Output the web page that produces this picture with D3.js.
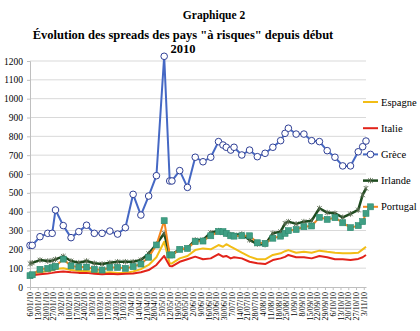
<!DOCTYPE html>
<html>
<head>
<meta charset="utf-8">
<script src="https://cdn.jsdelivr.net/npm/d3@7"></script>
<style>
  body { margin: 0; background: #fff; }
  svg { font-family: "Liberation Serif", "Times New Roman", serif; }
</style>
</head>
<body>
<div id="chart"></div>
<script>
// Weekly quotes (dd/mm dates of each observation)
var dates = ["2010-01-06","2010-01-08","2010-01-15","2010-01-22","2010-01-26","2010-01-29","2010-02-05","2010-02-12","2010-02-19","2010-02-26",
  "2010-03-05","2010-03-12","2010-03-19","2010-03-26","2010-04-02","2010-04-09","2010-04-16","2010-04-23","2010-04-30","2010-05-07",
  "2010-05-12","2010-05-14","2010-05-21","2010-05-28","2010-06-04","2010-06-11","2010-06-18","2010-06-25","2010-06-29","2010-07-02",
  "2010-07-06","2010-07-09","2010-07-16","2010-07-23","2010-07-30","2010-08-06","2010-08-13","2010-08-20","2010-08-24","2010-08-27",
  "2010-09-03","2010-09-10","2010-09-17","2010-09-24","2010-10-01","2010-10-08","2010-10-15","2010-10-22","2010-10-29","2010-11-02","2010-11-05"];

var espagne = [70,72,78,85,88,95,100,90,85,85, 80,75,78,75,75,82,95,117,158,240,
  125,125,152,165,196,205,200,223,214,227, 214,205,182,161,147,147,170,179,190,196,
  182,187,182,193,187,182,179,179,182,200,214];
var italie = [60,62,68,72,75,78,82,78,75,75, 70,68,70,68,70,72,78,90,117,165,
  112,110,134,147,161,147,152,175,161,165, 152,158,152,134,126,122,143,152,160,170,
  158,158,152,165,158,147,147,143,149,158,170];
var grece = [221,221,267,285,285,409,326,262,294,328, 285,285,297,281,315,492,382,483,591,1225,
  563,563,618,529,689,665,689,772,754,742, 727,742,701,727,692,710,742,777,816,843,
  812,812,777,772,724,689,643,643,718,745,775];
var irlande = [124,128,143,138,140,147,163,138,129,138, 126,122,129,134,134,134,143,177,227,285,
  170,173,200,205,250,250,288,299,290,281, 278,276,281,250,228,225,285,294,338,347,
  335,347,352,418,395,391,370,388,409,489,524];
var portugal = [60,65,94,99,104,110,148,112,106,106, 94,90,104,104,99,108,122,158,223,352,
  170,170,200,205,241,244,272,294,294,285, 272,270,272,272,235,232,259,270,285,299,
  305,320,324,370,359,368,341,315,326,347,391];

var seriesNames = ["Espagne", "Italie", "Grèce", "Irlande", "Portugal"];

var xTickLabels = ["6/01/10","13/01/10","20/01/10","27/01/10","3/02/10","10/02/10","17/02/10","24/02/10",
  "3/03/10","10/03/10","17/03/10","24/03/10","31/03/10","7/04/10","14/04/10","21/04/10","28/04/10",
  "5/05/10","12/05/10","19/05/10","26/05/10","2/06/10","9/06/10","16/06/10","23/06/10","30/06/10",
  "7/07/10","14/07/10","21/07/10","28/07/10","4/08/10","11/08/10","18/08/10","25/08/10",
  "1/09/10","8/09/10","15/09/10","22/09/10","29/09/10","6/10/10","13/10/10","20/10/10","27/10/10","3/11/10"];

var yTicks = [0,100,200,300,400,500,600,700,800,900,1000,1100,1200];

var width = 420, height = 331;
var margin = {left: 30, right: 54, top: 61, bottom: 44};

var parseIso = d3.timeParse("%Y-%m-%d");
var parseTick = d3.timeParse("%d/%m/%y");
var fmtTick = d3.timeFormat("%-d/%m/%y");

var dateObjs = dates.map(parseIso);
var tickDates = xTickLabels.map(parseTick);

var x = d3.scaleTime()
  .domain([dateObjs[0], dateObjs[dateObjs.length - 1]])
  .range([margin.left, width - margin.right]);

var y = d3.scaleLinear()
  .domain([0, 1200])
  .range([height - margin.bottom, margin.top]);

var svg = d3.select('#chart')
  .append('svg')
  .attr('width', width)
  .attr('height', height);

// Titles
svg.append('text')
  .attr('x', 214).attr('y', 19)
  .attr('text-anchor', 'middle')
  .style('font-weight', 'bold').style('font-size', '11.5px')
  .text('Graphique 2');

svg.append('text')
  .attr('x', 183).attr('y', 38.5)
  .attr('text-anchor', 'middle')
  .style('font-weight', 'bold').style('font-size', '12.5px')
  .text('Évolution des spreads des pays "à risques" depuis début');

svg.append('text')
  .attr('x', 183).attr('y', 52.5)
  .attr('text-anchor', 'middle')
  .style('font-weight', 'bold').style('font-size', '12.5px')
  .text('2010');

// Gridlines
svg.append('g')
  .selectAll('line')
  .data(yTicks.filter(function(d) { return d > 0; }))
  .enter().append('line')
  .attr('x1', margin.left).attr('x2', width - margin.right)
  .attr('y1', function(d) { return y(d); })
  .attr('y2', function(d) { return y(d); })
  .attr('stroke', '#d9d9d9').attr('stroke-width', 1);

// Y axis
var yAxis = svg.append('g')
  .attr('transform', 'translate(' + margin.left + ',0)')
  .call(d3.axisLeft(y).tickValues(yTicks).tickFormat(d3.format('d')).tickSize(3).tickPadding(4));
yAxis.selectAll('path, line').attr('stroke', '#bfbfbf');
yAxis.selectAll('text')
  .style('font-family', '"Liberation Serif", serif')
  .style('font-size', '9.5px').attr('fill', '#000');

// X axis
var xAxis = svg.append('g')
  .attr('transform', 'translate(0,' + y(0) + ')')
  .call(d3.axisBottom(x).tickValues(tickDates).tickFormat(fmtTick).tickSize(3).tickSizeOuter(0));
xAxis.selectAll('path, line').attr('stroke', '#bfbfbf');
xAxis.selectAll('text')
  .style('font-family', '"Liberation Serif", serif')
  .style('font-size', '8px').attr('fill', '#000')
  .attr('transform', 'rotate(-90)')
  .attr('x', -5).attr('y', 0).attr('dy', '0.33em')
  .style('text-anchor', 'end');

// Series
var series = [
  {name: seriesNames[0], values: espagne, color: '#f2bd16', width: 2, marker: null},
  {name: seriesNames[1], values: italie, color: '#e2231a', width: 2, marker: null},
  {name: seriesNames[2], values: grece, color: '#4568c4', width: 2, marker: 'circle'},
  {name: seriesNames[3], values: irlande, color: '#1d4a1e', width: 2.5, marker: 'star'},
  {name: seriesNames[4], values: portugal, color: '#f5861f', width: 2, marker: 'square'}
];

var line = d3.line()
  .x(function(d) { return x(d.date); })
  .y(function(d) { return y(d.value); });

function drawMarker(g, type) {
  if (type === 'circle') {
    g.append('circle').attr('r', 3.3)
      .attr('fill', '#fff').attr('stroke', '#2f3f95').attr('stroke-width', 1);
  } else if (type === 'square') {
    g.append('rect').attr('x', -3).attr('y', -3).attr('width', 6).attr('height', 6)
      .attr('fill', '#3f9f84').attr('stroke', '#2e8a70').attr('stroke-width', 0.6);
  } else if (type === 'star') {
    g.append('path')
      .attr('d', 'M-2.3,-2.3L2.3,2.3M-2.3,2.3L2.3,-2.3M0,-2.8L0,2.8')
      .attr('stroke', '#5a6a50').attr('stroke-width', 0.9).attr('fill', 'none');
  }
}

series.forEach(function(s) {
  var pts = s.values.map(function(v, i) { return {date: dateObjs[i], value: v}; });
  var g = svg.append('g');
  g.append('path')
    .datum(pts)
    .attr('d', line)
    .attr('fill', 'none')
    .attr('stroke', s.color)
    .attr('stroke-width', s.width)
    .attr('stroke-linejoin', 'round');
  if (s.marker) {
    g.selectAll('g.m')
      .data(pts)
      .enter().append('g')
      .attr('class', 'm')
      .attr('transform', function(d) { return 'translate(' + x(d.date) + ',' + y(d.value) + ')'; })
      .each(function() { drawMarker(d3.select(this), s.marker); });
  }
});

// Legend
var legend = svg.append('g');
series.forEach(function(s, i) {
  var ly = 102 + i * 26.2;
  var item = legend.append('g').attr('transform', 'translate(363,' + ly + ')');
  item.append('line')
    .attr('x1', 0).attr('x2', 15).attr('y1', 0).attr('y2', 0)
    .attr('stroke', s.color).attr('stroke-width', s.width);
  if (s.marker) {
    var mg = item.append('g').attr('transform', 'translate(7.5,0)');
    drawMarker(mg, s.marker);
  }
  item.append('text')
    .attr('x', 18).attr('y', 0).attr('dy', '0.35em')
    .style('font-size', '10.5px')
    .text(s.name);
});
</script>
</body>
</html>
